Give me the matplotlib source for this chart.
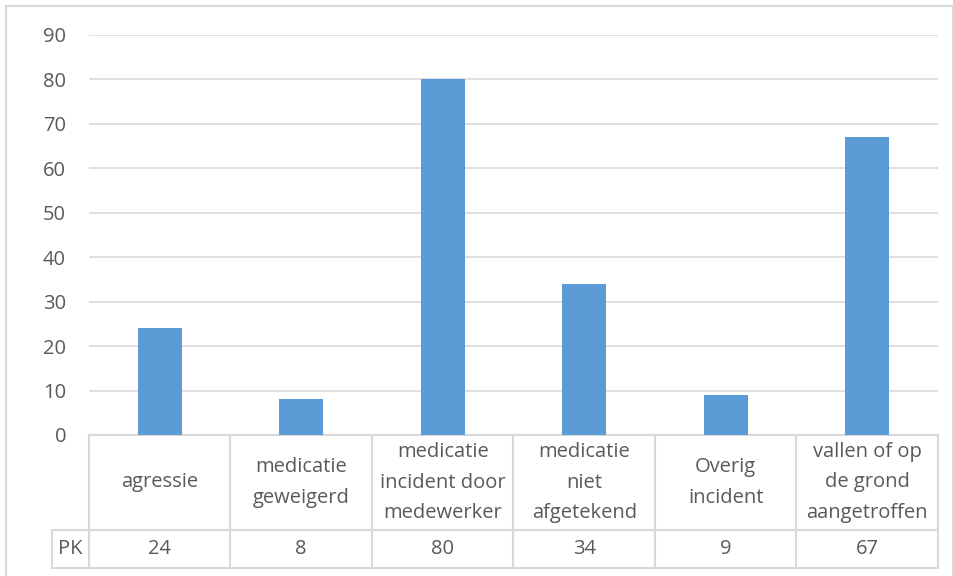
import matplotlib.pyplot as plt
import matplotlib.transforms as mtransforms
from matplotlib.patches import Rectangle

plt.rcParams['font.family'] = ['Open Sans', 'DejaVu Sans']

# Data
categories = ["agressie", "medicatie\ngeweigerd", "medicatie\nincident door\nmedewerker",
              "medicatie\nniet\nafgetekend", "Overig\nincident", "vallen of op\nde grond\naangetroffen"]
series_name = "PK"
values = [24, 8, 80, 34, 9, 67]
yticks = [0, 10, 20, 30, 40, 50, 60, 70, 80, 90]

text_color = "#595959"
line_color = "#D9D9D9"
bar_color = "#5B9BD5"
fs = 14.5

fig = plt.figure(figsize=(9.54, 5.76), dpi=100)
# chart border (bottom edge falls just outside the image)
fig.patches.append(Rectangle((6 / 954, -0.01), 1 - 7 / 954, 1 - 6 / 576 + 0.01,
                             transform=fig.transFigure, fill=False,
                             edgecolor=line_color, linewidth=1.5))

W, H = 954, 576
left, right, top, bottom = 89, 938, 35, 435
ax = fig.add_axes([left / W, 1 - bottom / H, (right - left) / W, (bottom - top) / H])

x = range(len(values))
ax.bar(x, values, width=0.31, color=bar_color, zorder=3)
ax.set_xlim(-0.5, len(values) - 0.5)
ax.set_ylim(0, 90)
ax.set_yticks(yticks)
ax.yaxis.grid(True, color=line_color, linewidth=1.2, zorder=0)
ax.tick_params(axis='y', length=0, pad=16.5, labelsize=fs, labelcolor=text_color)
ax.tick_params(axis='x', length=0, labelbottom=False)
for s in ax.spines.values():
    s.set_visible(False)

# Data table under the plot
trans = mtransforms.blended_transform_factory(ax.transData, ax.transAxes)
px = (right - left) / len(values)  # pixels per category
ah = bottom - top
y_head = -(530 - bottom) / ah
y_pk = -(568 - bottom) / ah
x_pk = -0.5 - (left - 52) / px
n = len(values)

kw = dict(transform=trans, color=line_color, linewidth=1.5, clip_on=False)
ax.plot([-0.5, n - 0.5], [0, 0], **kw)
ax.plot([x_pk, n - 0.5], [y_head, y_head], **kw)
ax.plot([x_pk, n - 0.5], [y_pk, y_pk], **kw)
ax.plot([x_pk, x_pk], [y_head, y_pk], **kw)
for i in range(n + 1):
    ax.plot([i - 0.5, i - 0.5], [0, y_pk], **kw)

for i, (cat, v) in enumerate(zip(categories, values)):
    ax.text(i, y_head / 2, cat, transform=trans, ha='center', va='center',
            fontsize=fs, color=text_color, linespacing=1.72)
    ax.text(i, (y_head + y_pk) / 2, str(v), transform=trans, ha='center', va='center',
            fontsize=fs, color=text_color)
ax.text((x_pk - 0.5) / 2, (y_head + y_pk) / 2, series_name, transform=trans,
        ha='center', va='center', fontsize=fs, color=text_color)

fig.savefig("out.png", dpi=100)
